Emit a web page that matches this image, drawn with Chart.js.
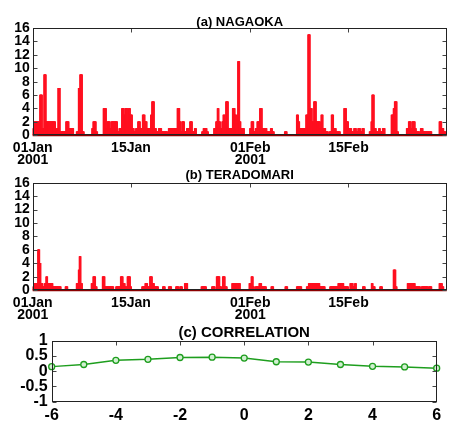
<!DOCTYPE html>
<html><head><meta charset="utf-8">
<script src="https://cdn.jsdelivr.net/npm/chart.js@4/dist/chart.umd.min.js"></script>
<style>
html,body{margin:0;padding:0;background:#fff;}
body{width:449px;height:427px;position:relative;overflow:hidden;}
canvas{position:absolute;left:0;}
</style></head><body>
<canvas id="ca" width="449" height="170" style="top:0px"></canvas>
<canvas id="cb" width="449" height="170" style="top:160px"></canvas>
<canvas id="cc" width="449" height="109" style="top:318px"></canvas>
<script>
// ---------- DATA ----------
const TOTAL_HOURS = 1416; // 01Jan 2001 00h .. 01Mar 2001 00h
const dateTickHours = [0, 336, 744, 1080];
const dateTickLabels = [['01Jan', '2001'], ['15Jan'], ['01Feb', '2001'], ['15Feb']];
const precipTickValues = [0, 2, 4, 6, 8, 10, 12, 14, 16];

// hourly precipitation (mm) as runs: [startHour, endHour(excl), value]
const nagaokaRuns = [
  [0,4,1],[4,25,2],[25,32,6],[32,39,1],[39,45,9],[45,77,2],[77,82,0.5],[82,87,1],[87,93,7],
  [93,114,0.5],[114,123,2],[123,139,1],[150,157,0.5],[157,162,7],[162,169,9],[169,175,0.5],
  [203,207,1],[207,216,2],[216,221,0.5],[242,251,4],[251,255,1],[255,264,2],[264,269,1],
  [269,289,2],[289,296,0.5],[296,305,1],[305,312,4],[312,317,3],[317,324,4],[324,328,2],
  [328,333,4],[333,340,3],[340,346,1],[346,353,0.5],[353,360,1],[360,367,2],[367,376,1],
  [376,383,3],[383,390,2],[390,404,1],[404,408,3],[408,415,5],[415,422,1],[422,431,0.5],
  [431,440,1],[440,461,0.5],[465,495,1],[495,502,4],[502,506,2],[506,511,0.5],[511,518,2],
  [518,527,0.5],[527,538,1],[538,545,2],[545,554,0.5],[554,559,1],[579,584,0.5],[584,595,1],
  [595,600,0.5],[620,627,1],[627,632,2],[632,636,4],[636,641,2],[641,648,1],[648,652,2],
  [652,657,3],[657,661,2],[661,668,5],[668,684,1],[684,691,4],[691,696,3],[696,700,1],
  [700,702,3],[702,707,11],[707,711,2],[711,723,1],[743,748,1],[748,755,2],[755,762,0.5],
  [762,768,1],[768,775,2],[777,784,4],[784,800,1],[800,812,0.5],[814,819,1],[819,825,0.5],
  [862,869,0.5],[903,908,3],[908,912,2],[912,935,1],[935,942,3],[942,948,15],[948,955,4],
  [955,962,2],[962,969,5],[969,983,2],[983,987,1],[987,992,3],[992,1001,1],[1001,1010,0.5],
  [1015,1022,0.5],[1022,1028,3],[1028,1037,1],[1037,1051,0.5],[1065,1072,4],[1072,1079,2],
  [1079,1090,1],[1090,1097,0.5],[1099,1106,1],[1106,1113,0.5],[1113,1120,1],[1120,1127,0.5],
  [1127,1133,1],[1152,1158,0.5],[1158,1161,2],[1161,1167,6],[1167,1174,1],[1174,1184,0.5],
  [1184,1188,1],[1188,1195,0.5],[1197,1204,1],[1227,1234,3],[1234,1238,4],[1238,1245,5],
  [1245,1250,0.5],[1279,1286,1],[1286,1293,2],[1293,1298,1],[1298,1307,2],[1307,1311,1],
  [1311,1323,0.5],[1327,1334,1],[1334,1364,0.5],[1391,1398,2],[1398,1405,1],[1405,1412,0.5]
];
const teradomariRuns = [
  [0,4,0.5],[4,18,1],[18,23,6],[23,27,4],[27,34,1],[34,41,0.5],[41,46,1],[46,50,2],[50,68,1],
  [68,96,0.5],[112,119,0.5],[150,157,1],[157,160,3],[160,164,5],[164,169,1],[201,207,1],
  [207,214,2],[214,219,0.5],[239,246,2],[246,276,0.5],[285,301,0.5],[301,308,2],[308,315,1],
  [315,322,0.5],[324,333,2],[333,337,0.5],[374,385,0.5],[385,392,1],[392,401,0.5],[401,408,2],
  [408,415,1],[415,429,0.5],[445,452,0.5],[465,474,0.5],[490,499,0.5],[504,511,0.5],[520,529,1],
  [577,593,0.5],[613,623,0.5],[629,639,2],[639,645,0.5],[650,657,2],[657,664,0.5],[682,709,1],
  [741,748,1],[748,753,2],[753,757,0.5],[762,775,0.5],[775,782,1],[782,798,0.5],[816,823,0.5],
  [864,871,0.5],[903,919,0.5],[937,944,0.5],[944,981,1],[981,999,0.5],[1017,1045,0.5],
  [1045,1063,1],[1063,1079,0.5],[1086,1095,1],[1095,1102,0.5],[1102,1106,1],[1129,1136,0.5],
  [1159,1163,1],[1163,1170,0.5],[1188,1195,0.5],[1234,1241,3],[1241,1245,0.5],[1282,1307,1],
  [1307,1325,0.5],[1330,1352,0.5],[1355,1364,0.5],[1391,1400,1],[1400,1405,0.5]
];

const lagHours = [-6, -5, -4, -3, -2, -1, 0, 1, 2, 3, 4, 5, 6];
const correlation = [0.15, 0.22, 0.355, 0.39, 0.45, 0.46, 0.43, 0.31, 0.30, 0.22, 0.16, 0.14, 0.10];
const corrTickValues = [-1, -0.5, 0, 0.5, 1];
const corrTickLabels = ['-1', '-0.5', '0', '0.5', '1'];
const lagTickValues = [-6, -4, -2, 0, 2, 4, 6];
const lagTopTickValues = [-4, -2, 0, 2, 4];

const titles = ['(a) NAGAOKA', '(b) TERADOMARI', '(c) CORRELATION'];

// ---------- HELPERS ----------
function hourlySeries(runs) {
  const arr = new Array(TOTAL_HOURS).fill(0);
  runs.forEach(([s, e, v]) => { for (let h = s; h < e; h++) arr[h] = v; });
  return arr;
}
function barPoints(runs) {
  return hourlySeries(runs).map((v, h) => ({ x: h + 0.5, y: v })).filter(p => p.y > 0);
}

const FONT = '"Liberation Sans", Arial, sans-serif';

const framePlugin = {
  id: 'frame',
  afterDraw(chart, args, o) {
    const { ctx, chartArea: a, scales } = chart;
    ctx.save();
    if (o.baseline) {
      const y0 = scales.y.getPixelForValue(0);
      ctx.strokeStyle = '#8b0000';
      ctx.lineWidth = 2;
      ctx.beginPath(); ctx.moveTo(a.left, y0); ctx.lineTo(a.right, y0); ctx.stroke();
    }
    const L = Math.round(a.left) + 0.5, R = Math.round(a.right) - 0.5;
    const T = Math.round(a.top) + 0.5, B = Math.round(a.bottom) - 0.5;
    ctx.strokeStyle = '#444';
    ctx.lineWidth = 1;
    ctx.beginPath();
    scales.y.ticks.forEach(t => {
      const py = Math.round(scales.y.getPixelForValue(t.value)) + 0.5;
      ctx.moveTo(L, py); ctx.lineTo(L + 4, py);
      ctx.moveTo(R, py); ctx.lineTo(R - 4, py);
    });
    (o.topTicks || []).forEach(v => {
      const px = Math.round(scales.x.getPixelForValue(v)) + 0.5;
      ctx.moveTo(px, T); ctx.lineTo(px, T + 4);
    });
    ctx.stroke();
    ctx.strokeStyle = '#222';
    ctx.strokeRect(L, T, R - L, B - T);
    ctx.fillStyle = '#000';
    ctx.font = o.titleFont;
    ctx.textAlign = 'center';
    ctx.textBaseline = 'middle';
    ctx.fillText(o.title, (a.left + a.right) / 2, o.titleY);
    ctx.restore();
  }
};

function precipChart(id, runs, title, geom) {
  return new Chart(document.getElementById(id), {
    type: 'bar',
    data: {
      datasets: [{
        data: barPoints(runs),
        backgroundColor: '#ff1020',
        borderWidth: 0,
        barThickness: 1.2,
        grouped: false
      }]
    },
    options: {
      responsive: false, animation: false, devicePixelRatio: 1,
      layout: { padding: { left: 0, right: geom.padRight, top: geom.top, bottom: 0 } },
      plugins: {
        legend: { display: false }, tooltip: { enabled: false }, title: { display: false },
        frame: { title, titleY: geom.titleY, titleFont: 'bold 13px ' + FONT, baseline: true, topTicks: dateTickHours.slice(1) }
      },
      scales: {
        x: {
          type: 'linear', min: 0, max: TOTAL_HOURS, offset: false,
          grid: { display: false, drawTicks: false }, border: { display: false },
          afterBuildTicks: s => { s.ticks = dateTickHours.map(v => ({ value: v })); },
          afterFit: s => { s.height = geom.xAxisH; },
          ticks: {
            autoSkip: false, maxRotation: 0, padding: geom.xPad, color: '#000',
            font: { family: FONT, size: 14, weight: 'bold', lineHeight: '12px' },
            callback: (v, i) => dateTickLabels[i]
          }
        },
        y: {
          min: 0, max: 16,
          grid: { display: false, drawTicks: false }, border: { display: false },
          afterBuildTicks: s => { s.ticks = precipTickValues.map(v => ({ value: v })); },
          afterFit: s => { s.width = geom.yAxisW; },
          ticks: {
            autoSkip: false, padding: 3, color: '#000',
            font: { family: FONT, size: 14, weight: 'bold', lineHeight: 1 },
            callback: v => String(v)
          }
        }
      }
    },
    plugins: [framePlugin]
  });
}

precipChart('ca', nagaokaRuns, titles[0], { top: 28, padRight: 2.3, yAxisW: 32.7, xAxisH: 34.7, xPad: 7, titleY: 22 });
precipChart('cb', teradomariRuns, titles[1], { top: 22.7, padRight: 2.3, yAxisW: 32.7, xAxisH: 39.7, xPad: 7, titleY: 15.3 });

new Chart(document.getElementById('cc'), {
  type: 'line',
  data: {
    datasets: [{
      data: lagHours.map((x, i) => ({ x, y: correlation[i] })),
      borderColor: '#1e9e1e',
      borderWidth: 1.5,
      pointRadius: 3,
      pointBorderWidth: 1.3,
      pointBorderColor: '#1e9e1e',
      pointBackgroundColor: '#d2efd2',
      tension: 0,
      clip: false
    }]
  },
  options: {
    responsive: false, animation: false, devicePixelRatio: 1,
    layout: { padding: { left: 0, right: 12.3, top: 22.7, bottom: 0 } },
    plugins: {
      legend: { display: false }, tooltip: { enabled: false }, title: { display: false },
      frame: { title: titles[2], titleY: 14.5, titleFont: 'bold 15px ' + FONT, baseline: false, topTicks: lagTopTickValues }
    },
    scales: {
      x: {
        type: 'linear', min: -6, max: 6,
        grid: { display: false, drawTicks: false }, border: { display: false },
        afterBuildTicks: s => { s.ticks = lagTickValues.map(v => ({ value: v })); },
        afterFit: s => { s.height = 25.3; },
        ticks: {
          autoSkip: false, maxRotation: 0, padding: 6, color: '#000',
          font: { family: FONT, size: 16, weight: 'bold', lineHeight: '16px' },
          callback: v => String(v)
        }
      },
      y: {
        min: -1, max: 1,
        grid: { display: false, drawTicks: false }, border: { display: false },
        afterBuildTicks: s => { s.ticks = corrTickValues.map(v => ({ value: v })); },
        afterFit: s => { s.width = 51.7; },
        ticks: {
          autoSkip: false, padding: 4, color: '#000',
          font: { family: FONT, size: 16, weight: 'bold', lineHeight: 1 },
          callback: (v, i) => corrTickLabels[i]
        }
      }
    }
  },
  plugins: [framePlugin]
});
</script>
</body></html>
